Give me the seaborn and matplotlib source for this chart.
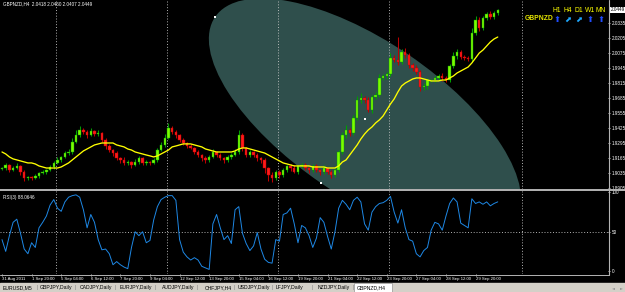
# GBPNZD H4 차트 (MT4 화면) 재현 스크립트
import numpy as np
import pandas as pd
import matplotlib
matplotlib.use('Agg')
import matplotlib.pyplot as plt
import seaborn as sns
from matplotlib.patches import Ellipse, Rectangle
from matplotlib.lines import Line2D
from matplotlib.transforms import IdentityTransform, blended_transform_factory

# ---- 데이터 ----
symbol = 'GBPNZD,H4'
first_open = 1.9070
closes = [
    1.9078, 1.9104, 1.9061, 1.9078, 1.9096, 1.9044, 1.8992, 1.9000, 1.8992, 1.9009,
    1.9035, 1.9044, 1.9061, 1.9087, 1.9122, 1.9148, 1.9174, 1.9208, 1.9217, 1.9304,
    1.9364, 1.9408, 1.9391, 1.9364, 1.9399, 1.9373, 1.9382, 1.9321, 1.9269, 1.9234,
    1.9208, 1.9165, 1.9148, 1.9122, 1.9130, 1.9104, 1.9130, 1.9165, 1.9122, 1.9130,
    1.9122, 1.9148, 1.9234, 1.9278, 1.9338, 1.9425, 1.9391, 1.9364, 1.9321, 1.9295,
    1.9269, 1.9252, 1.9217, 1.9191, 1.9165, 1.9148, 1.9174, 1.9217, 1.9191, 1.9165,
    1.9148, 1.9174, 1.9191, 1.9217, 1.9364, 1.9252, 1.9191, 1.9217, 1.9191, 1.9165,
    1.9148, 1.9078, 1.9018, 1.8992, 1.9044, 1.9018, 1.9061, 1.9096, 1.9078, 1.9044,
    1.9096, 1.9104, 1.9078, 1.9061, 1.9096, 1.9061, 1.9044, 1.9078, 1.9044, 1.9018,
    1.9061, 1.9217, 1.9364, 1.9408, 1.9382, 1.9512, 1.9668, 1.9685, 1.9668, 1.9581,
    1.9694, 1.9711, 1.9859, 1.9876, 1.9893, 2.0032, 2.0015, 1.9997, 2.0084, 2.0058,
    1.9971, 1.9945, 1.9911, 1.9781, 1.9789, 1.9841, 1.9841, 1.9859, 1.9876, 1.9859,
    1.9841, 1.9963, 2.0049, 2.0084, 2.0041, 2.0032, 2.0023, 2.0249, 2.0362, 2.0292,
    2.0379, 2.0414, 2.0388, 2.0418, 2.0449]
# 꼬리 길이 (pips)
wick_up = [
    12, 20, 9, 15, 25, 10, 14, 8, 12, 18,
    10, 15, 12, 20, 14, 22, 10, 18, 25, 30,
    40, 35, 20, 15, 30, 12, 25, 10, 15, 20,
    12, 18, 10, 22, 15, 12, 30, 14, 10, 18,
    12, 20, 15, 25, 35, 45, 20, 15, 12, 18,
    10, 14, 12, 20, 10, 15, 18, 30, 12, 15,
    10, 20, 14, 25, 40, 20, 12, 15, 10, 18,
    12, 15, 10, 25, 14, 20, 18, 12, 15, 22,
    10, 14, 18, 12, 20, 15, 10, 25, 12, 14,
    18, 15, 30, 40, 20, 25, 35, 45, 20, 30,
    15, 25, 30, 20, 18, 40, 30, 200, 25, 35,
    20, 15, 30, 20, 25, 15, 12, 20, 18, 30,
    15, 20, 35, 25, 20, 15, 18, 40, 30, 25,
    20, 15, 25, 18, 11]
wick_dn = [
    10, 15, 20, 12, 10, 25, 30, 18, 20, 12,
    14, 10, 15, 12, 18, 10, 20, 12, 15, 18,
    10, 15, 20, 25, 12, 18, 15, 20, 25, 18,
    30, 20, 25, 15, 20, 25, 12, 18, 20, 15,
    22, 12, 15, 10, 18, 12, 20, 25, 18, 15,
    20, 12, 18, 15, 25, 30, 20, 12, 18, 15,
    25, 14, 18, 12, 20, 30, 18, 15, 20, 25,
    30, 45, 50, 35, 20, 30, 15, 20, 25, 12,
    18, 20, 15, 25, 18, 20, 25, 15, 20, 30,
    20, 15, 20, 25, 30, 15, 20, 25, 30, 20,
    25, 20, 15, 20, 25, 15, 20, 30, 15, 25,
    30, 25, 20, 35, 25, 30, 20, 15, 20, 25,
    20, 15, 20, 25, 18, 15, 20, 25, 20, 30,
    15, 20, 18, 15, 11]
ma_vals = [
    1.9217, 1.9200, 1.9174, 1.9157, 1.9148, 1.9139, 1.9130, 1.9122, 1.9122, 1.9113,
    1.9096, 1.9087, 1.9078, 1.9078, 1.9078, 1.9078, 1.9087, 1.9104, 1.9122, 1.9148,
    1.9174, 1.9200, 1.9226, 1.9243, 1.9261, 1.9278, 1.9287, 1.9295, 1.9295, 1.9295,
    1.9295, 1.9278, 1.9269, 1.9261, 1.9243, 1.9234, 1.9217, 1.9208, 1.9200, 1.9191,
    1.9183, 1.9174, 1.9183, 1.9200, 1.9217, 1.9234, 1.9261, 1.9269, 1.9278, 1.9287,
    1.9287, 1.9287, 1.9278, 1.9269, 1.9261, 1.9243, 1.9234, 1.9226, 1.9217, 1.9217,
    1.9217, 1.9217, 1.9217, 1.9226, 1.9243, 1.9252, 1.9252, 1.9243, 1.9234, 1.9226,
    1.9217, 1.9208, 1.9191, 1.9174, 1.9157, 1.9139, 1.9122, 1.9113, 1.9104, 1.9096,
    1.9096, 1.9096, 1.9096, 1.9096, 1.9087, 1.9087, 1.9087, 1.9087, 1.9078, 1.9078,
    1.9078, 1.9096, 1.9130, 1.9148, 1.9191, 1.9234, 1.9278, 1.9330, 1.9373, 1.9408,
    1.9434, 1.9469, 1.9495, 1.9529, 1.9581, 1.9633, 1.9677, 1.9737, 1.9789, 1.9815,
    1.9833, 1.9850, 1.9859, 1.9859, 1.9850, 1.9841, 1.9833, 1.9833, 1.9833, 1.9841,
    1.9841, 1.9859, 1.9876, 1.9902, 1.9919, 1.9937, 1.9954, 1.9989, 2.0032, 2.0075,
    2.0101, 2.0136, 2.0171, 2.0197, 2.0214]
rsi_vals = [
    40, 25, 45, 62, 66, 48, 28, 22, 36, 30,
    55, 62, 70, 84, 91, 80, 76, 88, 94, 96,
    97, 94, 78, 55, 72, 62, 40, 27, 28, 22,
    8, 12, 8, 5, 3, 30, 50, 45, 50, 36,
    39, 65, 82, 91, 94, 96, 96, 90, 40, 24,
    18, 14, 17, 14, 6, 4, 2, 60, 72, 55,
    40, 45, 35, 78, 82, 48, 35, 26, 32, 49,
    28, 15, 11, 10, 40, 38, 72, 74, 80, 60,
    36, 58, 55, 45, 30, 42, 68, 62, 44, 28,
    50, 80, 90, 85, 78, 90, 94, 88, 60, 52,
    75, 82, 86, 87, 90, 95, 75, 61, 78, 55,
    40, 38, 22, 18, 26, 30, 52, 62, 60, 52,
    70, 86, 93, 88, 61, 58, 55, 92, 86, 88,
    85, 88, 83, 86, 88.0646]

label_bars = [0, 8, 16, 24, 32, 40, 48, 56, 64, 72, 80, 88, 96, 104, 112, 120, 128]
time_labels = ['31 Aug 2011', '1 Sep 20:00', '5 Sep 04:00', '6 Sep 12:00', '7 Sep 20:00',
               '9 Sep 04:00', '12 Sep 12:00', '13 Sep 20:00', '15 Sep 04:00', '16 Sep 12:00',
               '19 Sep 20:00', '21 Sep 04:00', '22 Sep 12:00', '23 Sep 20:00', '27 Sep 04:00',
               '28 Sep 12:00', '29 Sep 20:00']
week_bars = [14.5, 44.5, 74.5, 104.5, 140.5]
price_ticks = [2.0335, 2.0205, 2.0075, 1.9945, 1.9815, 1.9685, 1.9555,
               1.9425, 1.9295, 1.9165, 1.9035, 1.8905]
# 타원 객체: 장축 끝점, 중심, 단축 끝점 (bar, price)
ellipse_bar = [57.6, 98.1, 86.2]
ellipse_price = [2.0388, 1.9503, 1.8948]
mtf_frames = ['H1', 'H4', 'D1', 'W1', 'MN']
mtf_arrows = ['⬆', '⬈', '⬈', '⬆', '⬆']
tabs = ['EURUSD,M5', 'GBPJPY,Daily', 'CADJPY,Daily', 'EURJPY,Daily', 'AUDJPY,Daily',
        'CHFJPY,H4', 'USDJPY,Daily', 'LFJPY,Daily', 'NZDJPY,Daily', 'GBPNZD,H4']

# ---- 데이터프레임 ----
df = pd.DataFrame({'bar': np.arange(len(closes)), 'close': closes,
                   'ma': ma_vals, 'rsi': rsi_vals})
df['open'] = [first_open] + closes[:-1]
df['body_lo'] = df[['open', 'close']].min(axis=1)
df['body_hi'] = df[['open', 'close']].max(axis=1)
df['high'] = df['body_hi'] + np.array(wick_up) * 1e-4
df['low'] = df['body_lo'] - np.array(wick_dn) * 1e-4
df['body_h'] = (df['body_hi'] - df['body_lo']).clip(lower=0.0002)

# ---- 스타일 ----
sns.set_theme(style='dark', rc={'axes.facecolor': 'black', 'figure.facecolor': 'black'})
plt.rcParams['font.family'] = ['Liberation Sans', 'DejaVu Sans']

W, H = 625.0, 292.0
fig = plt.figure(figsize=(W / 100, H / 100), dpi=100, facecolor='black')

def box(x0, y0, x1, y1):
    return [x0 / W, 1 - y1 / H, (x1 - x0) / W, (y1 - y0) / H]

def ftext(x, y, s, **kw):
    fig.text(x / W, 1 - y / H, s, **kw)

ax = fig.add_axes(box(0, 0, 608, 189))
ax_rsi = fig.add_axes(box(0, 191, 608, 274))
for a in (ax, ax_rsi):
    a.set_facecolor('black')
    for sp in a.spines.values():
        sp.set_visible(False)
    a.set_xlim(-0.54, 163.8)

ax.set_ylim(1.8896, 2.0535)
ax_rsi.set_ylim(-3.8, 101.9)

# 타원 (화면 픽셀 기준으로 그림)
pts = ax.transData.transform(np.column_stack([ellipse_bar, ellipse_price]))
end, ctr, minor = pts
a_len = np.hypot(*(end - ctr))
b_len = np.hypot(*(minor - ctr))
ang = np.degrees(np.arctan2(end[1] - ctr[1], end[0] - ctr[0]))
ell = Ellipse(ctr, 2 * a_len, 2 * b_len, angle=ang, transform=IdentityTransform(),
              facecolor='#2f4f4c', edgecolor='none', zorder=1)
ax.add_patch(ell)
ax.scatter(ellipse_bar, ellipse_price, marker='s', s=2, color='white', linewidths=0, zorder=7)

# 주간 구분선
grid_kw = dict(color='#c8c8c8', lw=0.6, ls=(0, (1.2, 2.2)), zorder=2)
for wb in week_bars:
    ax.axvline(wb, **grid_kw)
    ax_rsi.axvline(wb, **grid_kw)
ax_rsi.axhline(50, **grid_kw)

# 캔들
bull = df[df['close'] >= df['open']]
bear = df[df['close'] < df['open']]
for part, body_c, wick_c in [(bull, '#7cfc00', '#00a000'), (bear, '#ff1a1a', '#c00000')]:
    ax.vlines(part['bar'], part['low'], part['high'], color=wick_c, lw=0.75, zorder=3)
    ax.bar(part['bar'], part['body_h'], bottom=part['body_lo'], width=0.66,
           color=body_c, edgecolor=wick_c, linewidth=0.3, zorder=4)

# 이동평균, RSI
sns.lineplot(data=df, x='bar', y='ma', ax=ax, color='#ffff00', lw=0.95, zorder=5)
sns.lineplot(data=df, x='bar', y='rsi', ax=ax_rsi, color='#1e88e5', lw=0.7)
for a in (ax, ax_rsi):
    a.set_xlabel('')
    a.set_ylabel('')
    a.set_xlim(-0.54, 163.8)
ax.set_ylim(1.8896, 2.0535)
ax_rsi.set_ylim(-3.8, 101.9)

# 축 눈금
ax.set_xticks([])
ax.yaxis.tick_right()
ax.set_yticks(price_ticks)
ax.set_yticklabels([f'{p:.4f}' for p in price_ticks])
ax.tick_params(axis='y', right=True, left=False, colors='white', labelsize=3.3,
               length=1.5, width=0.5, pad=1)
ax_rsi.yaxis.tick_right()
ax_rsi.set_yticks([0, 50, 100])
ax_rsi.set_yticklabels(['0', '50', '100'])
ax_rsi.tick_params(axis='y', right=True, left=False, colors='white', labelsize=3.3,
                   length=1.5, width=0.5, pad=1)
ax_rsi.set_xticks(label_bars)
ax_rsi.set_xticklabels(time_labels, ha='left')
ax_rsi.tick_params(axis='x', bottom=True, colors='white', labelsize=3.05,
                   length=1.5, width=0.5, pad=0.6)

# 현재가 박스
last = df.iloc[-1]
ax.text(1.004, last['close'], f"{last['close']:.4f}", fontsize=3.3, color='black',
        va='center', ha='left', clip_on=False,
        transform=blended_transform_factory(ax.transAxes, ax.transData),
        bbox=dict(boxstyle='square,pad=0.2', fc='white', ec='none'))

# 테두리
fig.add_artist(Line2D([0, 1], [1 - 190 / H] * 2, transform=fig.transFigure, color='#b4b4b4', lw=1.4))
fig.add_artist(Line2D([608.5 / W] * 2, [1 - 274.5 / H, 1], transform=fig.transFigure, color='#b4b4b4', lw=0.8))
fig.add_artist(Line2D([0, 608.5 / W], [1 - 274.5 / H] * 2, transform=fig.transFigure, color='#b4b4b4', lw=0.7))

# 상단 정보 텍스트
ftext(3, 4, f"{symbol}  {last['open']:.4f} {last['high']:.4f} {last['low']:.4f} {last['close']:.4f}",
      color='white', fontsize=3.3, va='center', ha='left')
ftext(3, 197, f'RSI(3) {rsi_vals[-1]:.4f}', color='white', fontsize=3.3, va='center', ha='left')

# 멀티 타임프레임 표시
arrow_colors = ['#1f4dff', '#1ea8ff', '#1ea8ff', '#1f4dff', '#1f4dff']
for k, (tf, arr) in enumerate(zip(mtf_frames, mtf_arrows)):
    x = 557 + 11 * k
    ftext(x, 10, tf, color='#ffff00', fontsize=4.9, ha='center', va='center')
    ftext(x, 19.5, arr, color=arrow_colors[k], fontsize=6, ha='center', va='center',
          family=['DejaVu Sans'])
ftext(539, 19, symbol.split(',')[0], color='#e6e600', fontsize=4.9, ha='center', va='center',
      weight='bold')

# 하단 탭
fig.add_artist(Rectangle((0, 0), 1, 9 / H, transform=fig.transFigure, color='#d4d0c8', zorder=0))
tab_x = [3, 40, 80, 120, 162, 205, 238, 276, 318, 357]
sep_x = [37, 75, 115, 155, 197, 234, 272, 312, 353]
fig.add_artist(Rectangle((354 / W, 0), 38 / W, 9 / H, transform=fig.transFigure,
                         facecolor='white', edgecolor='#808080', lw=0.4, zorder=1))
for x, name in zip(tab_x, tabs):
    ftext(x, 288, name, color='black', fontsize=3.7, ha='left', va='center')
for x in sep_x:
    ftext(x, 288, '|', color='#808080', fontsize=3.7, ha='center', va='center')
ftext(613, 288, '◄', color='#909090', fontsize=2.8, ha='center', va='center', family=['DejaVu Sans'])
ftext(621, 288, '►', color='#909090', fontsize=2.8, ha='center', va='center', family=['DejaVu Sans'])

fig.savefig('out.png', dpi=100, facecolor='black')
